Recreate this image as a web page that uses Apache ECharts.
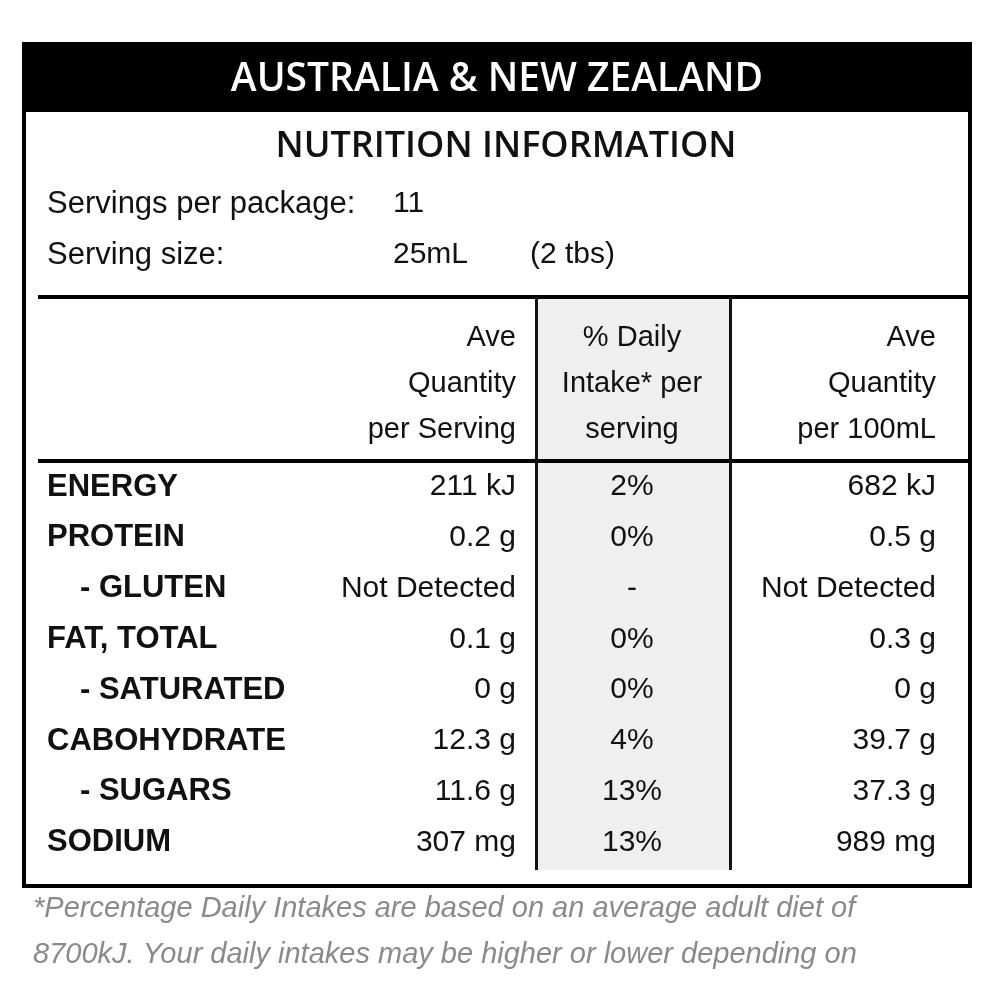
<!DOCTYPE html>
<html>
<head>
<meta charset="utf-8">
<script src="https://cdn.jsdelivr.net/npm/echarts@6/dist/echarts.min.js"></script>
<style>html,body{margin:0;padding:0;background:#fff}#chart{width:1000px;height:1000px}</style>
</head>
<body>
<div id="chart"></div>
<script>
const title = 'AUSTRALIA & NEW ZEALAND'
const subtitle = 'NUTRITION INFORMATION'
const servingLines = [['Servings per package:', '11', ''], ['Serving size:', '25mL', '(2 tbs)']]
const headers = [['Ave', 'Quantity', 'per Serving'], ['% Daily', 'Intake* per', 'serving'], ['Ave', 'Quantity', 'per 100mL']]
const nutrients = ['ENERGY', 'PROTEIN', '- GLUTEN', 'FAT, TOTAL', '- SATURATED', 'CABOHYDRATE', '- SUGARS', 'SODIUM']
const perServing = ['211 kJ', '0.2 g', 'Not Detected', '0.1 g', '0 g', '12.3 g', '11.6 g', '307 mg']
const dailyIntake = ['2%', '0%', '-', '0%', '0%', '4%', '13%', '13%']
const per100 = ['682 kJ', '0.5 g', 'Not Detected', '0.3 g', '0 g', '39.7 g', '37.3 g', '989 mg']
const footnote = ['*Percentage Daily Intakes are based on an average adult diet of', '8700kJ. Your daily intakes may be higher or lower depending on']

const font = '"Liberation Sans", Arial, sans-serif'
const chart = echarts.init(document.getElementById('chart'))
const els = []

function text(x, y, str, opts) {
  els.push({
    type: 'text', x: x, y: y, z: 10,
    style: Object.assign({
      text: str, fill: '#111', font: '30px ' + font,
      textAlign: 'left', textVerticalAlign: 'middle'
    }, opts || {})
  })
}
function rect(x, y, w, h, fill, z) {
  els.push({ type: 'rect', shape: { x: x, y: y, width: w, height: h }, style: { fill: fill }, z: z || 1 })
}

// frame and header band
rect(22, 42, 950, 70, '#000', 2)
rect(22, 42, 4, 846, '#000', 2)
rect(968, 42, 4, 846, '#000', 2)
rect(22, 884, 950, 4, '#000', 2)
text(497, 80, title, { fill: '#fff', font: '600 39px "Open Sans", ' + font, textAlign: 'center' })
text(506, 147, subtitle, { font: '600 36px "Open Sans", ' + font, textAlign: 'center' })

servingLines.forEach((row, i) => {
  const y = 204 + i * 51
  text(47, y, row[0], { font: '31px ' + font })
  text(393, y, row[1])
  if (row[2]) text(530, y, row[2])
})

// grid
rect(537, 297, 193, 573, '#efefef', 1)
rect(38, 295, 934, 4, '#000', 3)
rect(38, 459, 934, 4, '#000', 3)
rect(535, 297, 3, 573, '#111', 3)
rect(729, 297, 3, 573, '#111', 3)

const colX = [516, 632, 936]
const colAlign = ['right', 'center', 'right']
headers.forEach((lines, c) => {
  lines.forEach((l, i) => text(colX[c], 338 + i * 46, l, { textAlign: colAlign[c], font: '29px ' + font }))
})

nutrients.forEach((name, i) => {
  const y = 487 + i * 50.8
  const indent = name.startsWith('-') ? 80 : 47
  text(indent, y, name, { font: 'bold 31px ' + font })
  text(colX[0], y, perServing[i], { textAlign: 'right' })
  text(colX[1], y, dailyIntake[i], { textAlign: 'center' })
  text(colX[2], y, per100[i], { textAlign: 'right' })
})

footnote.forEach((l, i) => {
  text(33, 909 + i * 46, l, { fill: '#8a8a8a', font: 'italic 29px ' + font })
})

chart.setOption({ animation: false, graphic: { elements: els } })
</script>
</body>
</html>
